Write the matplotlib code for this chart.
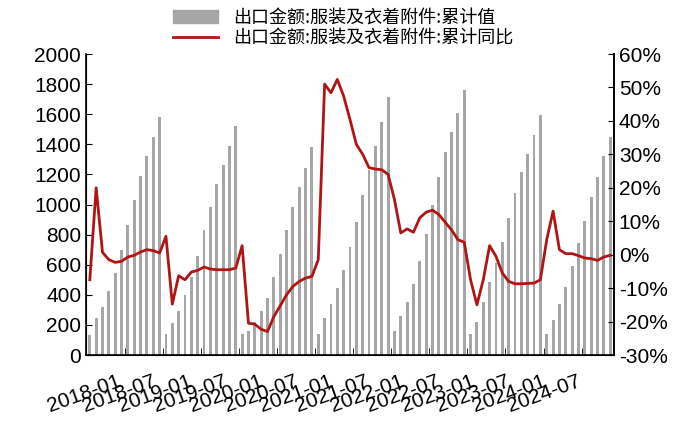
import numpy as np
import matplotlib.pyplot as plt
from matplotlib.patches import Patch
from matplotlib.lines import Line2D

plt.rcParams['font.family'] = ['Liberation Sans', 'Noto Sans CJK SC', 'DejaVu Sans']

# 累计值 (月度, 2018-01 ~ 2024-11)
val_2018 = [132, 245, 316, 426, 548, 695, 866, 1029, 1190, 1323, 1450, 1581]
val_2019 = [137, 210, 293, 397, 521, 658, 828, 985, 1134, 1263, 1386, 1523]
val_2020 = [137, 161, 216, 293, 382, 515, 669, 830, 982, 1115, 1243, 1380]
val_2021 = [137, 243, 336, 444, 565, 717, 887, 1062, 1232, 1391, 1550, 1711]
val_2022 = [157, 256, 355, 470, 625, 803, 998, 1185, 1346, 1483, 1611, 1762]
val_2023 = [141, 216, 355, 483, 614, 750, 912, 1077, 1219, 1336, 1459, 1596]
val_2024 = [141, 234, 338, 455, 591, 742, 889, 1053, 1183, 1320, 1448]
values = val_2018 + val_2019 + val_2020 + val_2021 + val_2022 + val_2023 + val_2024

# 累计同比 (%)
yoy = [-7.5, 20, 0.7, -1.5, -2.3, -2, -0.7, -0.2, 0.8, 1.5, 1.2, 0.5,
       5.5, -14.8, -6.3, -7.5, -5.2, -4.7, -3.7, -4.3, -4.5, -4.5, -4.5, -4,
       2.7, -20.5, -20.8, -22.3, -23, -18.5, -15.3, -12, -9.5, -8, -7, -6.5,
       -1.5, 51, 48.4, 52.4, 47.4, 40.4, 33, 30, 26, 25.6, 25.4, 24,
       16.5, 6.5, 7.7, 6.7, 11, 12.7, 13.3, 12, 9.7, 7.4, 4.5, 3.7,
       -7.5, -15, -7.5, 2.7, -0.5, -5.5, -8, -8.7, -8.7, -8.6, -8.5, -7.5,
       4.5, 13, 1.5, 0.3, 0.3, -0.3, -1, -1.2, -1.7, -0.7, -0.2]

tick_labels = ["2018-01", "2018-07", "2019-01", "2019-07", "2020-01", "2020-07",
               "2021-01", "2021-07", "2022-01", "2022-07", "2023-01", "2023-07",
               "2024-01", "2024-07"]

x = np.arange(len(values))

fig = plt.figure(figsize=(7, 4.44), dpi=100)
ax = fig.add_axes([86/700, 1-355/444, (614-86)/700, (355-54)/444])
ax.bar(x, values, width=0.45, color='#a6a6a6')
ax.set_xlim(-0.6, len(values) - 0.4)
ax.set_ylim(0, 2000)
ax.set_yticks(range(0, 2001, 200))
ax.tick_params(axis='y', direction='in', labelsize=15, length=4)

# tick marks every 6 months; labels squeezed like the original
ax.set_xticks([5.5 + 6*k for k in range(13)], minor=True)
ax.set_xticks(np.linspace(5.3, 77.8, len(tick_labels)))
ax.set_xticklabels(tick_labels, rotation=20, ha='right', fontsize=15)
ax.tick_params(axis='x', which='major', length=0, pad=12)
ax.tick_params(axis='x', which='minor', direction='in', length=5)
ax.spines['top'].set_visible(False)
for s in ['left', 'bottom', 'right']:
    ax.spines[s].set_linewidth(1.2)

ax2 = ax.twinx()
ax2.plot(x, yoy, color='#b01515', lw=2)
ax2.set_ylim(-30, 60)
ax2.set_yticks(range(-30, 61, 10))
ax2.set_yticklabels([f"{v}%" for v in range(-30, 61, 10)])
ax2.tick_params(axis='y', direction='in', labelsize=15, length=4)
ax2.spines['top'].set_visible(False)
ax2.spines['right'].set_linewidth(1.2)

handles = [Patch(color='#a6a6a6'), Line2D([], [], color='#b01515', lw=2)]
fig.legend(handles, ["出口金额:服装及衣着附件:累计值", "出口金额:服装及衣着附件:累计同比"],
           loc='upper center', bbox_to_anchor=(0.49, 1.0), frameon=False,
           prop={'family': 'Noto Sans CJK SC', 'size': 13}, handlelength=2.5,
           labelspacing=0.15, borderaxespad=0.1)

fig.savefig('out.png', dpi=100)
